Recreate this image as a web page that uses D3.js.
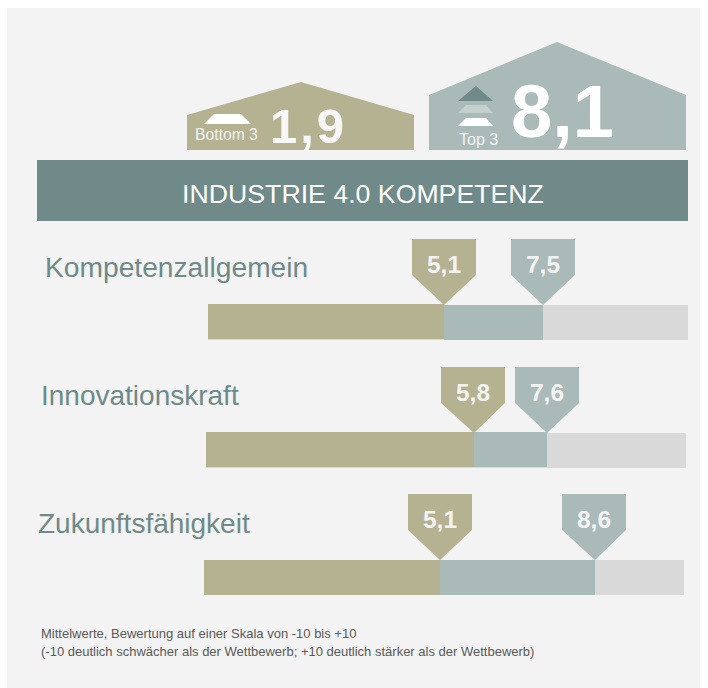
<!DOCTYPE html>
<html><head><meta charset="utf-8">
<script src="https://cdnjs.cloudflare.com/ajax/libs/d3/7.8.5/d3.min.js"></script>
<style>html,body{margin:0;padding:0;background:#fff}svg{display:block}text{font-family:"Liberation Sans",Arial,sans-serif}</style>
</head><body><svg id="c" width="708" height="688"></svg>
<script>
const categories = ["Kompetenzallgemein","Innovationskraft","Zukunftsfähigkeit"];
const bottomValues = [5.1,5.8,5.1];
const topValues = [7.5,7.6,8.6];
const bottomScore = 1.9, topScore = 8.1;
const title = "INDUSTRIE 4.0 KOMPETENZ";
const footnotes = ["Mittelwerte, Bewertung auf einer Skala von -10 bis +10","(-10 deutlich schwächer als der Wettbewerb; +10 deutlich stärker als der Wettbewerb)"];

const OLIVE="#b5b292", TEAL="#a9bab8", DARK="#6f8a88", GREY="#d9d9d9";
const de = v => v.toFixed(1).replace(".",",");
const svg = d3.select("#c");
const poly = (pts,fill,g=svg)=>g.append("polygon").attr("points",pts.map(p=>p.join(",")).join(" ")).attr("fill",fill);
svg.append("rect").attr("x",7).attr("y",8).attr("width",693).attr("height",680).attr("fill","#f3f3f3");

// Drawn bar scale as printed in the source (not evenly spaced)
const x = d3.scaleLinear().domain([0,5.1,5.8,7.5,7.6,8.6,10]).range([0,236,268,335,341,391,480]);

// Header houses
poly([[187,150],[187,115],[301,82],[414,115],[414,150]],OLIVE);
poly([[429,150],[429,95],[557,42],[686,95],[686,150]],TEAL);
poly([[204,124],[214,114],[241,114],[251,124]],"#fff");
poly([[458,101],[476,86],[493,101]],DARK);
poly([[458,113],[466,105],[486,105],[493,113]],"#c3d0ce");
poly([[458,126],[466,118],[486,118],[493,126]],"#fff");
const txt=(s,xx,y,size,fill,weight)=>svg.append("text").attr("x",xx).attr("y",y).attr("font-size",size).attr("fill",fill).attr("font-weight",weight||"normal").text(s);
txt("Bottom 3",195,140,15.7,"#f3f3f3");
txt("Top 3",459,145,16,"#f3f3f3");
txt(de(bottomScore),270,143,49,"#f7f7f7","bold").attr("letter-spacing",3);
txt(de(topScore),511,137,74,"#fff","bold");

// Banner
svg.append("rect").attr("x",37).attr("y",160).attr("width",651).attr("height",61).attr("fill",DARK);
txt(title,363,203,26.7,"#fff").attr("text-anchor","middle");

// Rows
const rowTop=[305,433,560], rowX=[208,206,204], labelX=[45,41,38], labelY=[277,405,533];
const oliveLift=[1,1,0], tealLift=[0,1,0], bottomShift=[0,-1,0], topShift=[0,0,-1];
categories.forEach((c,i)=>{
  const y0=rowTop[i], x0=rowX[i], h=35;
  const b=x0+x(bottomValues[i]), t=x0+x(topValues[i]);
  txt(c,labelX[i],labelY[i],i===0?28.2:28,DARK);
  svg.append("rect").attr("x",x0).attr("y",y0).attr("width",480).attr("height",h).attr("fill",GREY);
  svg.append("rect").attr("x",b).attr("y",y0-tealLift[i]).attr("width",t-b).attr("height",h).attr("fill",TEAL);
  svg.append("rect").attr("x",x0).attr("y",y0-oliveLift[i]).attr("width",b-x0).attr("height",h).attr("fill",OLIVE);
  [[b,OLIVE,bottomValues[i],bottomShift[i]],[t,TEAL,topValues[i],topShift[i]]].forEach(([m,col,v,s])=>{
    const c0=m+s;
    poly([[c0-32,y0-66],[c0+32,y0-66],[c0+32,y0-30],[m,y0],[c0-32,y0-30]],col);
    txt(de(v),c0,y0-32.5,24.5,"#f3f3f3","bold").attr("text-anchor","middle");
  });
});

footnotes.forEach((f,i)=>txt(f,41,638+i*18,13,"#595959"));
</script></body></html>
